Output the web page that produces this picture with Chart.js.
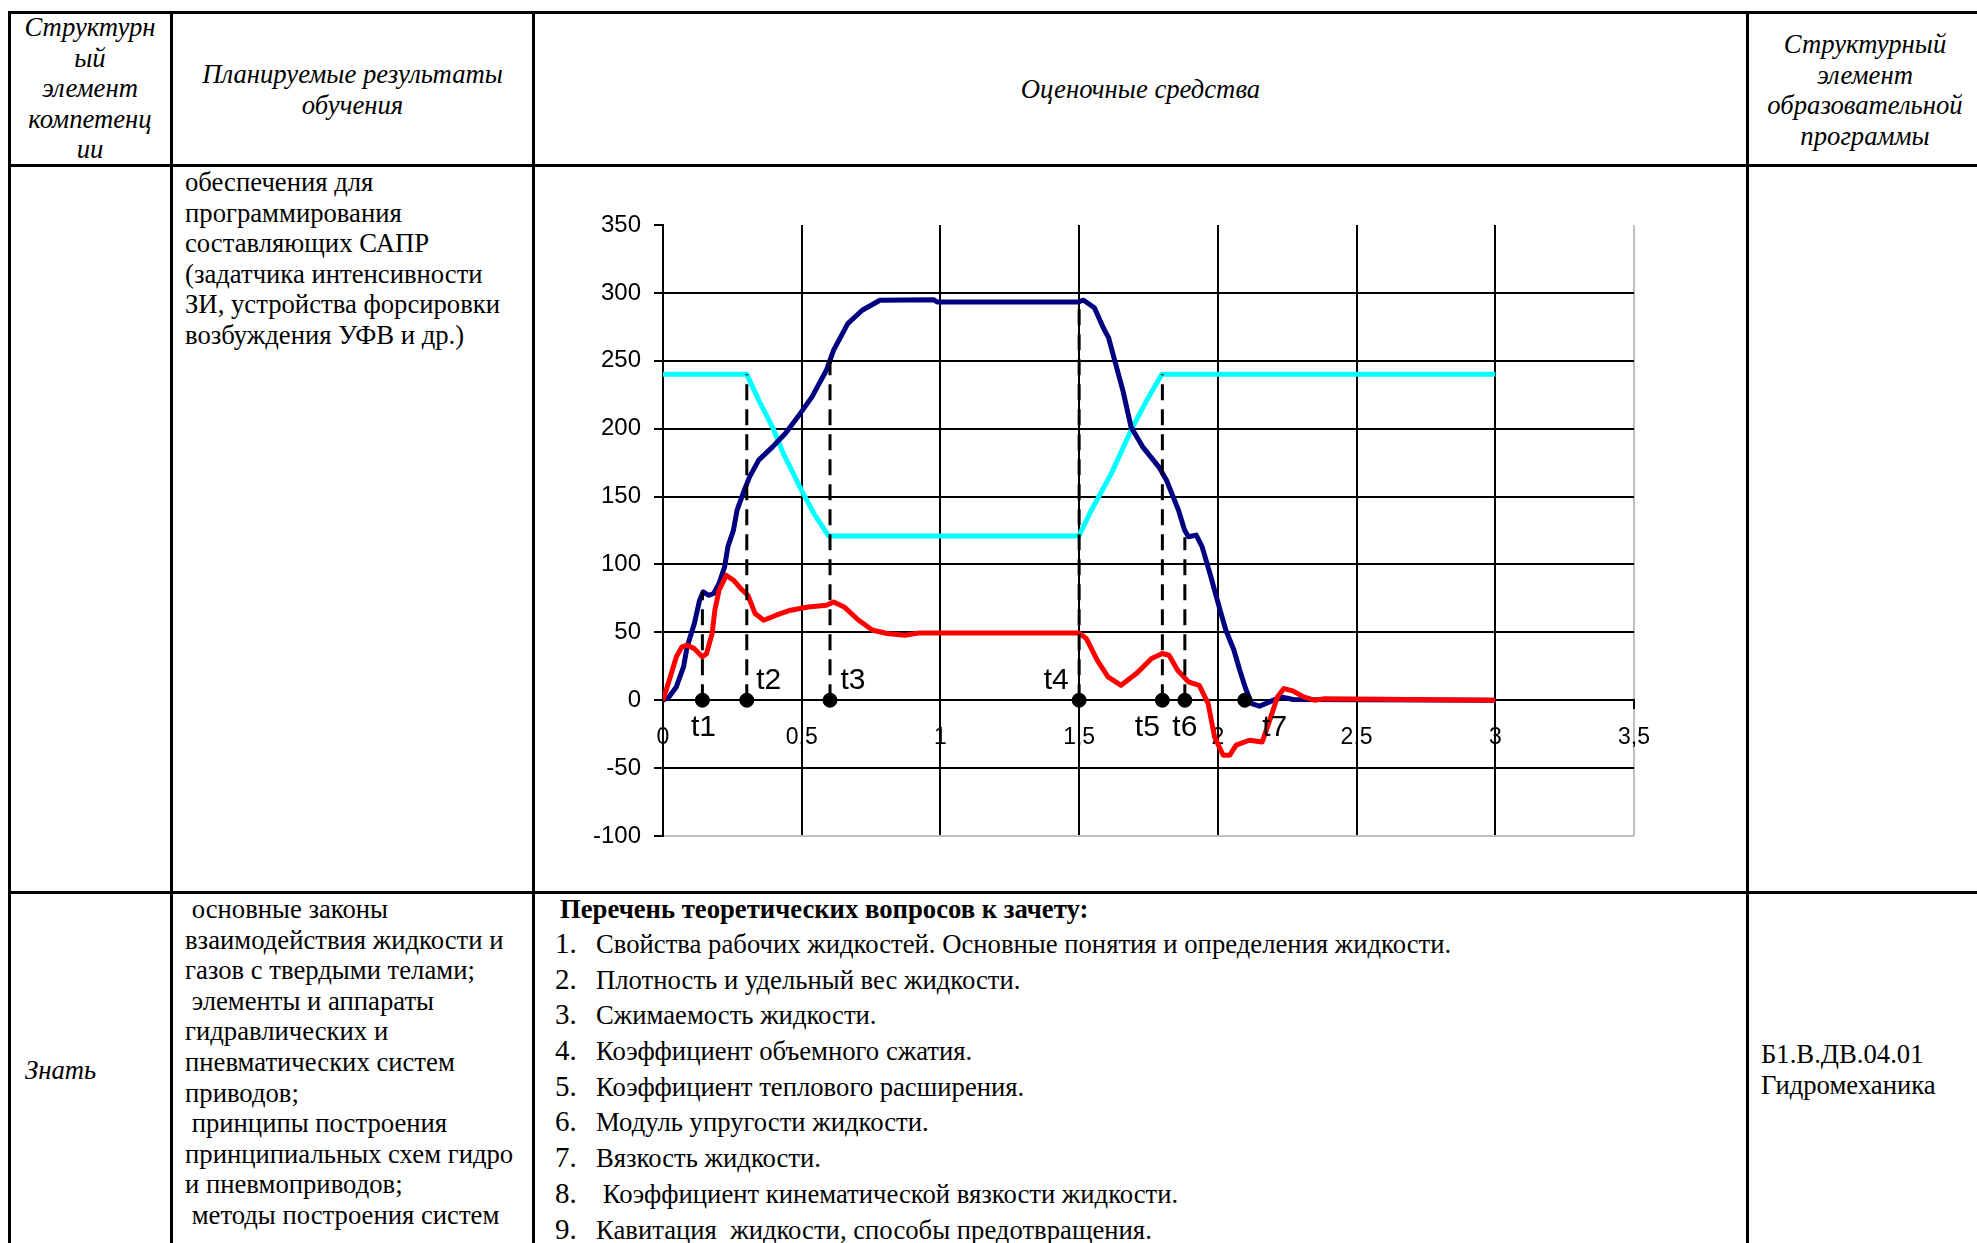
<!DOCTYPE html>
<html lang="ru">
<head>
<meta charset="utf-8">
<title>Оценочные средства</title>
<script src="https://cdn.jsdelivr.net/npm/chart.js@4.4.1/dist/chart.umd.min.js"></script>
<style>
    html, body { margin: 0; padding: 0; background: #fff; }
    body {
        width: 1977px; height: 1243px; position: relative; overflow: hidden;
        font-family: "Liberation Serif", serif; font-size: 26.7px; color: #000;
    }
    .hl { position: absolute; left: 8px; width: 1980px; height: 3px; background: #000; }
    .vl { position: absolute; top: 11px; height: 1240px; width: 3px; background: #000; }
    .txt { position: absolute; line-height: 30.6px; white-space: nowrap; }
    .it { font-style: italic; }
    .c { text-align: center; }
    .q { height: 35.7px; line-height: 35.7px; white-space: nowrap; }
    .q .n { display: inline-block; width: 41px; font-size: 29px; }
    #chartBox { position: absolute; left: 540px; top: 195px; width: 1130px; height: 680px; }
</style>
</head>
<body>

<!-- table grid -->
<div class="hl" style="top:11px"></div>
<div class="hl" style="top:164px"></div>
<div class="hl" style="top:891px"></div>
<div class="vl" style="left:8px"></div>
<div class="vl" style="left:170px"></div>
<div class="vl" style="left:532px"></div>
<div class="vl" style="left:1746px"></div>
<div class="vl" style="left:1982px"></div>

<!-- header row -->
<div class="txt it c" style="left:12px; width:156px; top:12px">Структурн<br>ый<br>элемент<br>компетенц<br>ии</div>
<div class="txt it c" style="left:174px; width:357px; top:59px">Планируемые результаты<br>обучения</div>
<div class="txt it c" style="left:536px; width:1209px; top:74px">Оценочные средства</div>
<div class="txt it c" style="left:1750px; width:230px; top:29px">Структурный<br>элемент<br>образовательной<br>программы</div>

<!-- chart row -->
<div class="txt" style="left:185px; top:167px">обеспечения для<br>программирования<br>составляющих САПР<br>(задатчика интенсивности<br>ЗИ, устройства форсировки<br>возбуждения УФВ и др.)</div>
<div id="chartBox"><canvas id="transientChart" width="1130" height="680"></canvas></div>

<!-- knowledge row -->
<div class="txt it" style="left:25px; top:1055px">Знать</div>
<div class="txt" style="left:185px; top:894px">&nbsp;основные законы<br>взаимодействия жидкости и<br>газов с твердыми телами;<br>&nbsp;элементы и аппараты<br>гидравлических и<br>пневматических систем<br>приводов;<br>&nbsp;принципы построения<br>принципиальных схем гидро<br>и пневмоприводов;<br>&nbsp;методы построения систем</div>
<div class="txt" style="left:560px; top:894px; font-weight:bold">Перечень теоретических вопросов к зачету:</div>
<div style="position:absolute; left:555px; top:926px">
    <div class="q"><span class="n">1.</span>Свойства рабочих жидкостей. Основные понятия и определения жидкости.</div>
    <div class="q"><span class="n">2.</span>Плотность и удельный вес жидкости.</div>
    <div class="q"><span class="n">3.</span>Сжимаемость жидкости.</div>
    <div class="q"><span class="n">4.</span>Коэффициент объемного сжатия.</div>
    <div class="q"><span class="n">5.</span>Коэффициент теплового расширения.</div>
    <div class="q"><span class="n">6.</span>Модуль упругости жидкости.</div>
    <div class="q"><span class="n">7.</span>Вязкость жидкости.</div>
    <div class="q"><span class="n">8.</span>&nbsp;Коэффициент кинематической вязкости жидкости.</div>
    <div class="q"><span class="n">9.</span>Кавитация &nbsp;жидкости, способы предотвращения.</div>
</div>
<div class="txt" style="left:1761px; top:1039px">Б1.В.ДВ.04.01<br>Гидромеханика</div>

<script>
/* =============================
   DATA
============================== */
const xTickLabels = ["0", "0,5", "1", "1,5", "2", "2,5", "3", "3,5"];
const yTickLabels = ["-100", "-50", "0", "50", "100", "150", "200", "250", "300", "350"];

// dark blue curve
const navyTime = [0, 0.022, 0.048, 0.074, 0.087, 0.113, 0.132, 0.145, 0.164, 0.183, 0.202, 0.222,
    0.234, 0.254, 0.267, 0.293, 0.312, 0.345, 0.395, 0.441, 0.486, 0.537, 0.589, 0.615, 0.666,
    0.718, 0.782, 0.975, 0.988, 1.497, 1.516, 1.555, 1.587, 1.606, 1.632, 1.658, 1.687, 1.729,
    1.787, 1.815, 1.858, 1.880, 1.894, 1.922, 1.943, 1.972, 2.008, 2.029, 2.058, 2.079, 2.100,
    2.122, 2.150, 2.186, 2.229, 2.271, 3.0];
const navyValue = [0, 2.5, 9.8, 24.5, 39.3, 56.5, 73.7, 79.8, 77.3, 78.6, 86, 98.2,
    113.1, 125.3, 140, 154.7, 164.5, 176.8, 186.6, 196.4, 208.7, 223.4, 243, 257.8, 277.4,
    287.2, 294.6, 295, 293.3, 293.3, 294.6, 289, 274.3, 267, 247.4, 227.8, 201.3, 186.6,
    171.9, 162, 140, 125.3, 120.4, 121.6, 113.1, 93, 66.3, 51.5, 36.8, 22.1, 8.6,
    -2.5, -4.4, -1.2, 2.5, 0.5, 0];

// red curve
const redTime = [0, 0.015, 0.028, 0.048, 0.068, 0.087, 0.113, 0.142, 0.157, 0.177, 0.187, 0.202,
    0.228, 0.254, 0.280, 0.306, 0.332, 0.363, 0.408, 0.460, 0.524, 0.589, 0.615, 0.653, 0.705,
    0.756, 0.808, 0.872, 0.924, 1.499, 1.526, 1.565, 1.604, 1.651, 1.706, 1.761, 1.800, 1.824,
    1.855, 1.894, 1.933, 1.965, 1.988, 2.019, 2.043, 2.066, 2.113, 2.160, 2.191, 2.215, 2.238,
    2.270, 2.309, 2.348, 2.38, 3.0];
const redValue = [0, 9.8, 18.4, 31.9, 39.3, 40.5, 38, 31.9, 34.4, 49.1, 66.3, 81,
    92, 88.4, 82.3, 77.3, 63.8, 58.9, 62.6, 66.3, 68.7, 70, 72.4, 68.7, 58.9,
    51.5, 49.1, 47.9, 49.6, 49.6, 45.4, 29.5, 17.2, 11, 19.6, 30.7, 34.4, 33.1,
    22.1, 13.5, 11, -2.5, -27, -40.5, -40.5, -33.1, -29.5, -30.7, -12.3, 2.5, 8.6,
    6.9, 2.5, 0, 1, 0];

// cyan curve
const cyanTime = [0, 0.302, 0.345, 0.395, 0.434, 0.499, 0.544, 0.583, 0.597, 1.499, 1.544, 1.616, 1.687, 1.744, 1.798, 3.0];
const cyanValue = [240, 240, 221, 201, 181.6, 154.7, 137.5, 125.3, 121, 121, 139.9, 166.9, 198.8, 221, 240, 240];

// time marks t1..t7 and how high their dashed line goes
const markerNames = ["t1", "t2", "t3", "t4", "t5", "t6", "t7"];
const markerTimes = [0.142, 0.302, 0.602, 1.5, 1.80, 1.881, 2.097];
const markerTops = [80, 240, 252, 294, 240, 120, 0];

/* =============================
   HELPERS
============================== */
const toPoints = (xs, ys) => xs.map((x, i) => ({ x, y: ys[i] }));

const dashPoints = [];
markerTimes.forEach((t, i) => {
    if (markerTops[i] <= 0) return;
    dashPoints.push({ x: t, y: 0 }, { x: t, y: markerTops[i] }, { x: t, y: null });
});

// where each t-label sits relative to its dot (px)
const labelOffsets = [[1, 28], [22, -19], [23, -19], [-23, -19], [-15, 28], [0, 28], [30, 28]];

const markerLabels = {
    id: "markerLabels",
    afterDatasetsDraw(chart) {
        const { ctx, scales: { x, y } } = chart;
        ctx.save();
        ctx.font = "30px 'Liberation Sans'";
        ctx.fillStyle = "#000";
        ctx.textAlign = "center";
        ctx.textBaseline = "middle";
        markerNames.forEach((name, i) => {
            const [dx, dy] = labelOffsets[i];
            ctx.fillText(name, x.getPixelForValue(markerTimes[i]) + dx, y.getPixelForValue(0) + dy);
        });
        ctx.restore();
    }
};

const curve = (data, color, order) => ({
    data, borderColor: color, borderWidth: 5, pointRadius: 0,
    tension: 0, borderJoinStyle: "round", order
});

/* =============================
   CHART
============================== */
new Chart(document.getElementById("transientChart"), {
    type: "line",
    data: {
        datasets: [
            { data: toPoints(markerTimes, markerTimes.map(() => 0)), showLine: false,
              pointRadius: 7, pointBackgroundColor: "#000", pointBorderColor: "#000", order: 0 },
            { data: dashPoints, borderColor: "#000", borderWidth: 3, borderDash: [16, 9],
              pointRadius: 0, spanGaps: false, order: 1 },
            curve(toPoints(redTime, redValue), "#ff0000", 2),
            curve(toPoints(navyTime, navyValue), "#000080", 3),
            curve(toPoints(cyanTime, cyanValue), "#00ffff", 4)
        ]
    },
    options: {
        responsive: false,
        animation: false,
        devicePixelRatio: 1,
        layout: { padding: { top: 30, right: 36, bottom: 39, left: 0 } },
        plugins: { legend: { display: false }, tooltip: { enabled: false } },
        scales: {
            x: {
                type: "linear",
                position: { y: 0 },
                min: 0, max: 3.5,
                afterFit: s => { s.height = 0; },
                afterBuildTicks: s => { s.ticks = xTickLabels.map((_, i) => ({ value: i * 0.5 })); },
                ticks: {
                    callback: (v, i) => xTickLabels[i],
                    color: "#000", padding: 16, maxRotation: 0,
                    font: { family: "'Liberation Sans'", size: 23 }
                },
                grid: {
                    color: c => (c.tick && c.tick.value === 3.5 ? "#c0c0c0" : "#000"),
                    tickColor: "#000", lineWidth: 2, tickLength: 8
                },
                border: { color: "#000", width: 2 }
            },
            y: {
                min: -100, max: 350,
                afterFit: s => { s.width = 123; },
                afterBuildTicks: s => { s.ticks = yTickLabels.map(l => ({ value: +l })); },
                ticks: {
                    callback: (v, i) => yTickLabels[i],
                    color: "#000", padding: 13,
                    font: { family: "'Liberation Sans'", size: 24 }
                },
                grid: {
                    color: c => {
                        if (!c.tick) return "#000";
                        if (c.tick.value === 350) return "rgba(0,0,0,0)";
                        if (c.tick.value === -100) return "#c0c0c0";
                        return "#000";
                    },
                    tickColor: "#000", lineWidth: 2, tickLength: 9
                },
                border: { color: "#000", width: 2 }
            }
        }
    },
    plugins: [markerLabels]
});
</script>
</body>
</html>
